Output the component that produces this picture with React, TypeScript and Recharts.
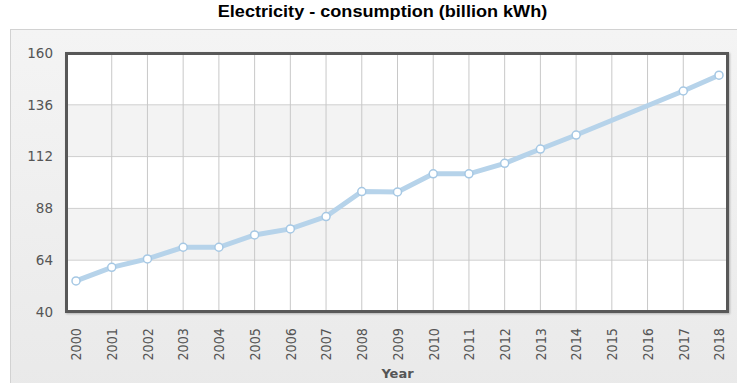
import { CartesianGrid, Line, LineChart, ReferenceLine, XAxis, YAxis } from "recharts";

const YEARS = [
  2000, 2001, 2002, 2003, 2004, 2005, 2006, 2007, 2008, 2009,
  2010, 2011, 2012, 2013, 2014, 2015, 2016, 2017, 2018,
];
// billion kWh; 2015 and 2016 have no reported value
const CONSUMPTION: (number | null)[] = [
  54.4, 60.7, 64.6, 70, 70, 75.7, 78.5, 84.2, 95.8, 95.6,
  104, 104, 108.9, 115.5, 122, null, null, 142.4, 149.7,
];
const Y_TICKS = [40, 64, 88, 112, 136, 160];
const GRID_YEARS = YEARS.slice(1, -1);

const data = YEARS.map((year, i) => ({ year, value: CONSUMPTION[i] }));

const FONT = "DejaVu Sans, Verdana, sans-serif";
const tickFont = { fontFamily: FONT, fontSize: 13.5, fill: "#555" };

// vertical year labels, slightly widened like the rest of the chart
const RotatedTick = (props: any) => {
  const { x, y, payload } = props;
  return (
    <text
      transform={`translate(${x}, ${y}) scale(1.13, 1) rotate(-90)`}
      textAnchor="end"
      dominantBaseline="central"
      fontFamily={FONT}
      fontSize={12.8}
      fill="#555"
    >
      {payload.value}
    </text>
  );
};

export default function App() {
  return (
    <div style={{ position: "absolute", left: 0, top: 0, width: 737, height: 383, background: "#fff", overflow: "hidden" }}>
      <div
        style={{
          position: "absolute",
          left: 0,
          top: 3,
          width: 677,
          textAlign: "center",
          fontFamily: "Liberation Sans, Arial, sans-serif",
          fontWeight: "bold",
          fontSize: 16,
          color: "#000",
          transform: "scaleX(1.13)",
          transformOrigin: "0 0",
          whiteSpace: "nowrap",
        }}
      >
        Electricity - consumption (billion kWh)
      </div>
      <div
        style={{
          position: "absolute",
          left: 10,
          top: 29,
          width: 740,
          height: 370,
          background: "linear-gradient(#f4f4f4, #e9e9e9)",
          border: "1px solid #d2d2d2",
        }}
      />
      <div style={{ position: "absolute", left: 0, top: 0 }}>
        <LineChart width={737} height={383} data={data} margin={{ top: 53, right: 9, bottom: 0, left: 0 }}>
          <CartesianGrid vertical={false} stroke="#cfcfcf" horizontalFill={["#ffffff", "#f3f3f3"]} fillOpacity={1} />
          {GRID_YEARS.map((yr) => (
            <ReferenceLine key={yr} x={yr} stroke="#c8c8c8" strokeWidth={1} ifOverflow="hidden" />
          ))}
          <XAxis
            dataKey="year"
            type="number"
            domain={[2000, 2018]}
            ticks={YEARS}
            padding={{ left: 9, right: 9 }}
            height={71}
            tickLine={false}
            axisLine={false}
            tickMargin={10}
            tick={<RotatedTick />}
            interval={0}
            label={{
              value: "Year",
              position: "insideBottom",
              offset: 5,
              fill: "#555",
              fontWeight: "bold",
              fontSize: 13,
              fontFamily: FONT,
            }}
          />
          <YAxis
            domain={[40, 160]}
            ticks={Y_TICKS}
            width={67}
            tickLine={false}
            axisLine={false}
            tickMargin={8}
            tick={tickFont}
          />
          <Line
            dataKey="value"
            type="linear"
            connectNulls
            stroke="#b6d3ea"
            strokeWidth={5}
            dot={{ r: 4, fill: "#ffffff", stroke: "#a6c8e4", strokeWidth: 1.5 }}
            activeDot={false}
            isAnimationActive={false}
          />
        </LineChart>
      </div>
      <div
        style={{
          position: "absolute",
          left: 65,
          top: 52,
          width: 664,
          height: 261,
          boxSizing: "border-box",
          border: "3px solid #585858",
          boxShadow: "1px 1px 2px rgba(0,0,0,0.25)",
          pointerEvents: "none",
        }}
      />
    </div>
  );
}
